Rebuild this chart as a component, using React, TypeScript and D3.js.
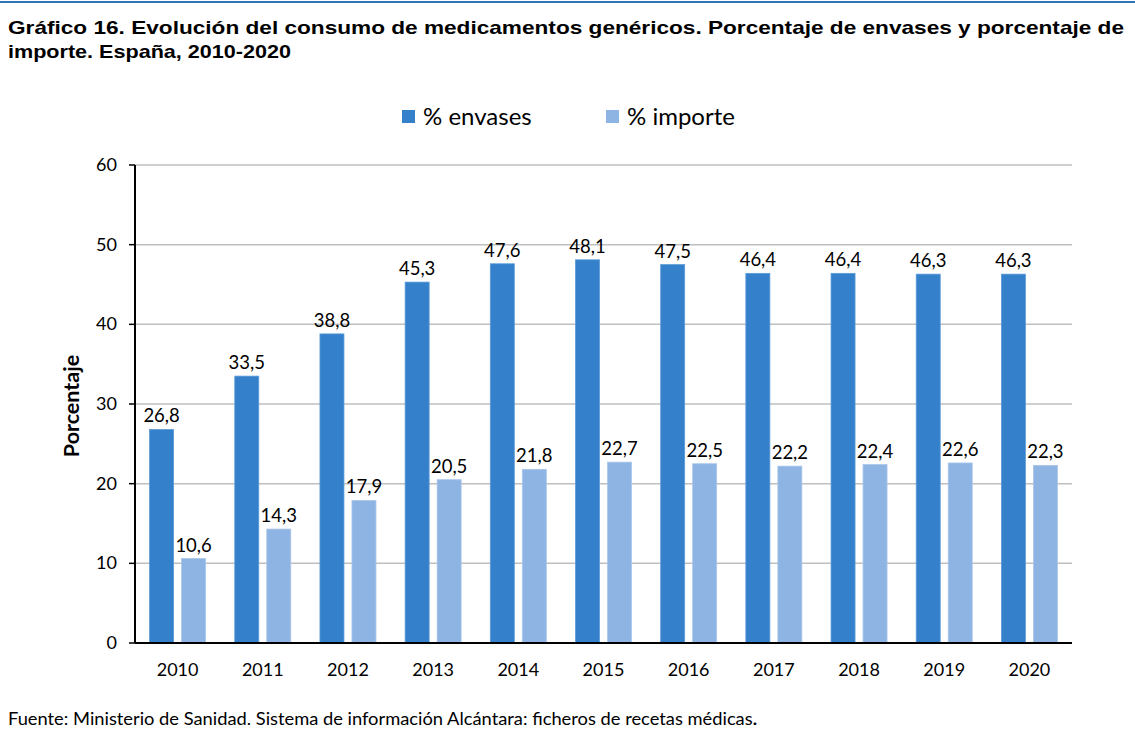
import React from "react";
import * as d3 from "d3";

const years = ["2010","2011","2012","2013","2014","2015","2016","2017","2018","2019","2020"];
const envases = [26.8,33.5,38.8,45.3,47.6,48.1,47.5,46.4,46.4,46.3,46.3];
const importe = [10.6,14.3,17.9,20.5,21.8,22.7,22.5,22.2,22.4,22.6,22.3];
const yTicks = [0,10,20,30,40,50,60];
const seriesNames = ["% envases","% importe"];
const colors = ["#3580CA","#8EB4E3"];

const W = 1135, H = 733;
const left = 135, right = 1072, top = 165, bottom = 643;

export default function App() {
  const x = d3.scaleBand<string>().domain(years).range([left, right]).padding(0);
  const y = d3.scaleLinear().domain([0, 60]).range([bottom, top]);
  const barW = 24, gap = 8;
  const fmt = (v: number) => v.toFixed(1).replace(".", ",");
  const lblFont = "Lato, 'Open Sans', sans-serif";
  return (
    <svg width={W} height={H} style={{ position: "absolute", left: 0, top: 0, background: "#fff" }}>
      <rect x={0} y={0} width={W} height={H} fill="#fff" />
      <line x1={0} x2={W} y1={2} y2={2} stroke="#2E75B6" strokeWidth={2} />
      <text x={8} y={34} fontFamily="'Liberation Sans', Arial, sans-serif" fontWeight="bold" fontSize={19} textLength={1116} lengthAdjust="spacingAndGlyphs" fill="#000">
        Gráfico 16. Evolución del consumo de medicamentos genéricos. Porcentaje de envases y porcentaje de
      </text>
      <text x={8} y={58} fontFamily="'Liberation Sans', Arial, sans-serif" fontWeight="bold" fontSize={19} textLength={283} lengthAdjust="spacingAndGlyphs" fill="#000">
        importe. España, 2010-2020
      </text>
      {/* legend */}
      {seriesNames.map((n, i) => (
        <g key={n} transform={`translate(${i === 0 ? 402 : 606},0)`}>
          <rect x={0} y={110} width={13} height={13} fill={colors[i]} />
          <text x={21} y={125} fontFamily={lblFont} fontSize={24} fill="#000">{n}</text>
        </g>
      ))}
      {/* gridlines */}
      {yTicks.map(t => (
        <g key={t}>
          {t > 0 && <line x1={left} x2={right} y1={y(t)} y2={y(t)} stroke="#BFBFBF" strokeWidth={1.5} />}
          <line x1={left - 6} x2={left} y1={y(t)} y2={y(t)} stroke="#000" strokeWidth={1.5} />
          <text x={left - 18} y={y(t) + 6} textAnchor="end" fontFamily={lblFont} fontSize={18} fill="#000">{t}</text>
        </g>
      ))}
      {/* bars */}
      {years.map((yr, i) => {
        const c = (x(yr) as number) + x.bandwidth() / 2;
        const x1 = c - gap / 2 - barW;
        const x2 = c + gap / 2;
        return (
          <g key={yr}>
            <rect x={x1} y={y(envases[i])} width={barW} height={bottom - y(envases[i])} fill={colors[0]} stroke="#5A9BD8" strokeWidth={0.8} />
            <rect x={x2} y={y(importe[i])} width={barW} height={bottom - y(importe[i])} fill={colors[1]} stroke="#A9C6EA" strokeWidth={0.8} />
            <text x={x1 + barW / 2} y={y(envases[i]) - 7} textAnchor="middle" fontFamily={lblFont} fontSize={18.5} fill="#000">{fmt(envases[i])}</text>
            <text x={x2 + barW / 2} y={y(importe[i]) - 7} textAnchor="middle" fontFamily={lblFont} fontSize={18.5} fill="#000">{fmt(importe[i])}</text>
            <text x={c} y={676} textAnchor="middle" fontFamily={lblFont} fontSize={18} fill="#000">{yr}</text>
          </g>
        );
      })}
      {/* axes */}
      <line x1={left} x2={left} y1={top} y2={bottom} stroke="#000" strokeWidth={2} />
      <line x1={left} x2={right} y1={bottom} y2={bottom} stroke="#000" strokeWidth={2} />
      <text transform={`translate(79,406) rotate(-90)`} textAnchor="middle" fontFamily={lblFont} fontWeight="bold" fontSize={21.5} fill="#000">Porcentaje</text>
      <text x={8} y={725} fontFamily={lblFont} fontSize={16.5} textLength={749} lengthAdjust="spacingAndGlyphs" fill="#000">
        Fuente: Ministerio de Sanidad. Sistema de información Alcántara: ficheros de recetas médicas<tspan fontWeight="bold">.</tspan>
      </text>
    </svg>
  );
}
